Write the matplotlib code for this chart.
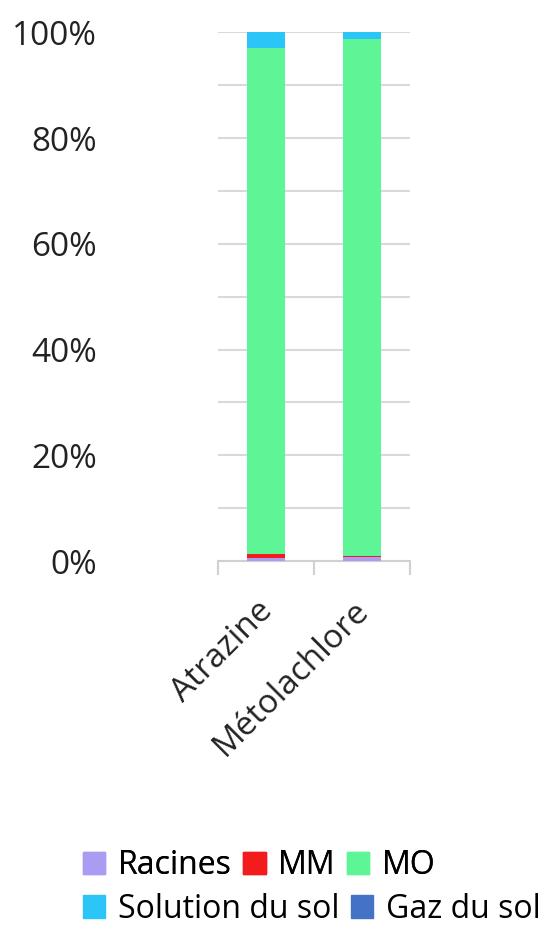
import matplotlib.pyplot as plt
import matplotlib.transforms as mtransforms
from matplotlib.patches import Patch
from matplotlib.ticker import MultipleLocator, PercentFormatter

plt.rcParams['font.family'] = ['Open Sans', 'DejaVu Sans']

categories = ['Atrazine', 'Métolachlore']
series = ['Racines', 'MM', 'MO', 'Solution du sol', 'Gaz du sol']
racines = [0.6, 0.8]
mm = [0.8, 0.2]
mo = [95.6, 97.7]
solution = [3.0, 1.3]
gaz = [0.0, 0.0]
colors = ['#a99cf2', '#f21c1c', '#5ef597', '#2cc5f8', '#4472c4']

values = [racines, mm, mo, solution, gaz]

fig = plt.figure(figsize=(5.57, 9.25), dpi=100)
ax = fig.add_axes([0.391, 0.3935, 0.345, 0.5715])

x = range(len(categories))
bottom = [0.0] * len(categories)
for name, vals, c in zip(series, values, colors):
    ax.bar(x, [v / 100 for v in vals], width=0.40, bottom=bottom, color=c, label=name, zorder=3)
    bottom = [b + v / 100 for b, v in zip(bottom, vals)]

ax.set_xlim(-0.5, 1.5)
ax.set_ylim(0, 1)
ax.yaxis.set_major_locator(MultipleLocator(0.2))
ax.yaxis.set_minor_locator(MultipleLocator(0.1))
ax.yaxis.set_major_formatter(PercentFormatter(1.0, decimals=0))
ax.grid(axis='y', which='both', color='#d9d9d9', linewidth=1.5, zorder=0)
ax.tick_params(axis='y', which='both', length=0, labelsize=24, pad=87, colors='#222222')

for s in ['top', 'right', 'left']:
    ax.spines[s].set_visible(False)
ax.spines['bottom'].set_color('#d0d0d0')
ax.spines['bottom'].set_linewidth(1.5)

ax.set_xticks([0, 1])
ax.set_xticklabels(categories, rotation=45, ha='right', va='top', rotation_mode='anchor', fontsize=24, color='#222222')
ax.tick_params(axis='x', which='major', length=0, pad=24)
ax.set_xticks([-0.5, 0.5, 1.5], minor=True)
ax.tick_params(axis='x', which='minor', length=10, width=1.5, color='#d0d0d0')
# nudge rotated labels left a little
shift = mtransforms.ScaledTranslation(-0.1, 0, fig.dpi_scale_trans)
for lab in ax.get_xticklabels():
    lab.set_transform(lab.get_transform() + shift)

handles = [Patch(color=c) for c in colors]
leg_kw = dict(frameon=False, fontsize=23, handlelength=0.7, handleheight=0.7, handletextpad=0.4,
              columnspacing=0.35, borderaxespad=0, borderpad=0)
leg1 = fig.legend(handles[:3], series[:3], loc='center left', bbox_to_anchor=(0.149, 0.064), ncol=3, **leg_kw)
leg2 = fig.legend(handles[3:], series[3:], loc='center left', bbox_to_anchor=(0.149, 0.017), ncol=2, **leg_kw)
fig.add_artist(leg1)

fig.savefig('out.png', dpi=100)
